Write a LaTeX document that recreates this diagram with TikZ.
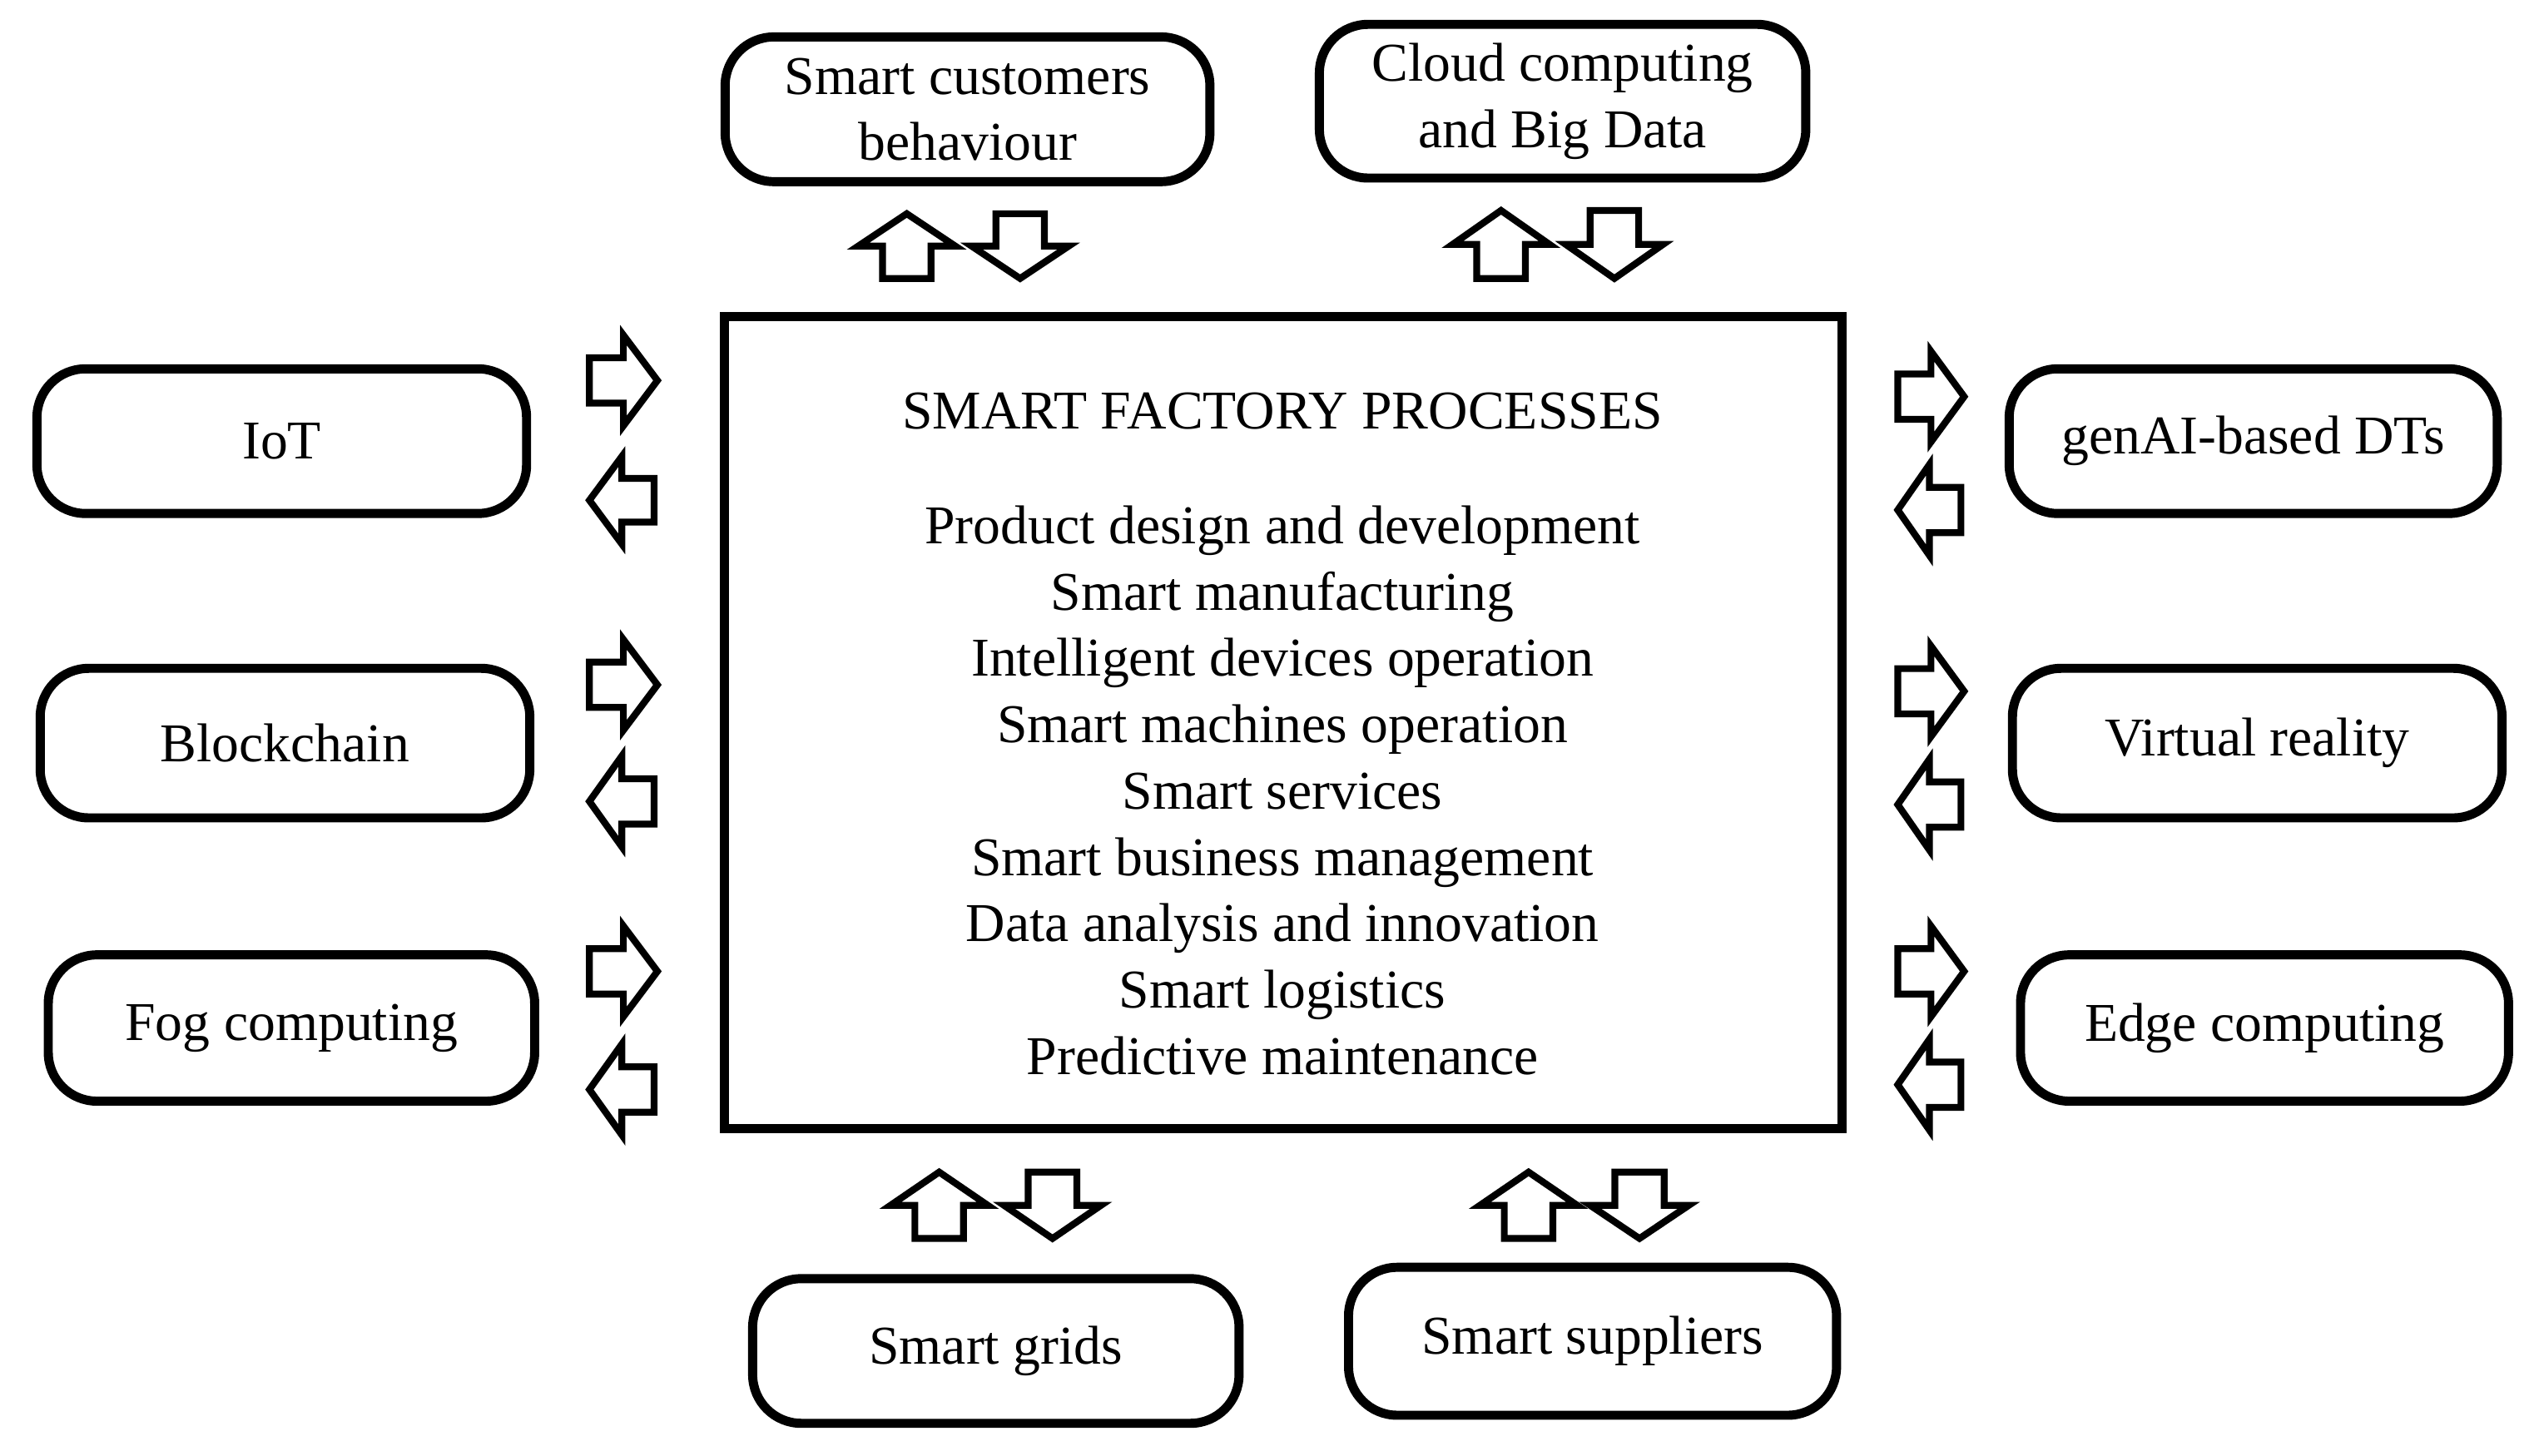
\documentclass[tikz,border=0pt]{standalone}
\usepackage{fontspec}
\setmainfont{Liberation Serif}
\begin{document}
\begin{tikzpicture}[x=0.01cm,y=-0.01cm,
  box/.style={draw,line width=1.6pt,rounded corners=0.3cm,align=center,font=\fontsize{9.6}{11.6}\selectfont},
  arr/.style={draw,line width=1.2pt,line join=miter}]
\useasboundingbox (0,0) rectangle (1568,899);
\newcommand\mybox[6]{\node[box,minimum width=#4*0.01cm-1.6pt,minimum height=#5*0.01cm-1.6pt] (#1) at ({(#2+#4/2)},{(#3+#5/2)}) {#6};}
\newcommand\uarr[4]{\draw[arr] ({#1},{(#3+#4)/2}) -- ({(#1+#2)/2},#3) -- ({#2},{(#3+#4)/2}) -- ({#2-(#2-#1)*0.25},{(#3+#4)/2}) -- ({#2-(#2-#1)*0.25},#4) -- ({#1+(#2-#1)*0.25},#4) -- ({#1+(#2-#1)*0.25},{(#3+#4)/2}) -- cycle;}
\newcommand\darr[4]{\draw[arr] ({#1},{(#3+#4)/2}) -- ({(#1+#2)/2},#4) -- ({#2},{(#3+#4)/2}) -- ({#2-(#2-#1)*0.25},{(#3+#4)/2}) -- ({#2-(#2-#1)*0.25},#3) -- ({#1+(#2-#1)*0.25},#3) -- ({#1+(#2-#1)*0.25},{(#3+#4)/2}) -- cycle;}
\newcommand\rarr[4]{\draw[arr] ({(#1+#2)/2},#3) -- (#2,{(#3+#4)/2}) -- ({(#1+#2)/2},#4) -- ({(#1+#2)/2},{#4-(#4-#3)*0.25}) -- (#1,{#4-(#4-#3)*0.25}) -- (#1,{#3+(#4-#3)*0.25}) -- ({(#1+#2)/2},{#3+(#4-#3)*0.25}) -- cycle;}
\newcommand\larr[4]{\draw[arr] ({(#1+#2)/2},#3) -- (#1,{(#3+#4)/2}) -- ({(#1+#2)/2},#4) -- ({(#1+#2)/2},{#4-(#4-#3)*0.25}) -- (#2,{#4-(#4-#3)*0.25}) -- (#2,{#3+(#4-#3)*0.25}) -- ({(#1+#2)/2},{#3+(#4-#3)*0.25}) -- cycle;}

\mybox{cust}{445}{20}{305}{95}{Smart customers\\behaviour}
\mybox{cloud}{812}{15}{306}{95}{Cloud computing\\and Big Data}
\mybox{iot}{20}{225}{308}{95}{IoT}
\mybox{block}{22}{410}{308}{98}{Blockchain}
\mybox{fog}{27}{587}{306}{96}{Fog computing}
\mybox{gen}{1238}{225}{307}{95}{genAI-based DTs}
\mybox{vr}{1240}{410}{308}{98}{Virtual reality}
\mybox{edge}{1245}{587}{307}{96}{Edge computing}
\mybox{grids}{462}{787}{306}{95}{Smart grids}
\mybox{supp}{830}{780}{307}{97}{Smart suppliers}

\node[draw,line width=1.6pt,minimum width=6.95cm-1.6pt,minimum height=5.07cm-1.6pt] (main) at (792.5,446.5) {};
\node[font=\fontsize{9.6}{11.6}\selectfont] (title) at (792,254) {SMART FACTORY PROCESSES};
\node[font=\fontsize{9.6}{11.65}\selectfont,align=center,anchor=north] (list) at (792,300) {Product design and development\\Smart manufacturing\\Intelligent devices operation\\Smart machines operation\\Smart services\\Smart business management\\Data analysis and innovation\\Smart logistics\\Predictive maintenance};

\uarr{530}{590}{132}{172}\darr{600}{660}{132}{172}
\uarr{897}{957}{130}{172}\darr{967}{1027}{130}{172}
\uarr{550}{610}{724}{765}\darr{620}{680}{724}{765}
\uarr{914}{974}{724}{765}\darr{982}{1043}{724}{765}
\rarr{364}{406}{207}{263}\larr{364}{404}{282}{336}
\rarr{364}{406}{395}{451}\larr{364}{404}{467}{523}
\rarr{364}{406}{572}{628}\larr{364}{404}{645}{701}
\rarr{1172}{1213}{217}{273}\larr{1172}{1211}{287}{343}
\rarr{1172}{1213}{399}{455}\larr{1172}{1211}{469}{525}
\rarr{1172}{1213}{572}{628}\larr{1172}{1211}{642}{698}
\end{tikzpicture}
\end{document}
